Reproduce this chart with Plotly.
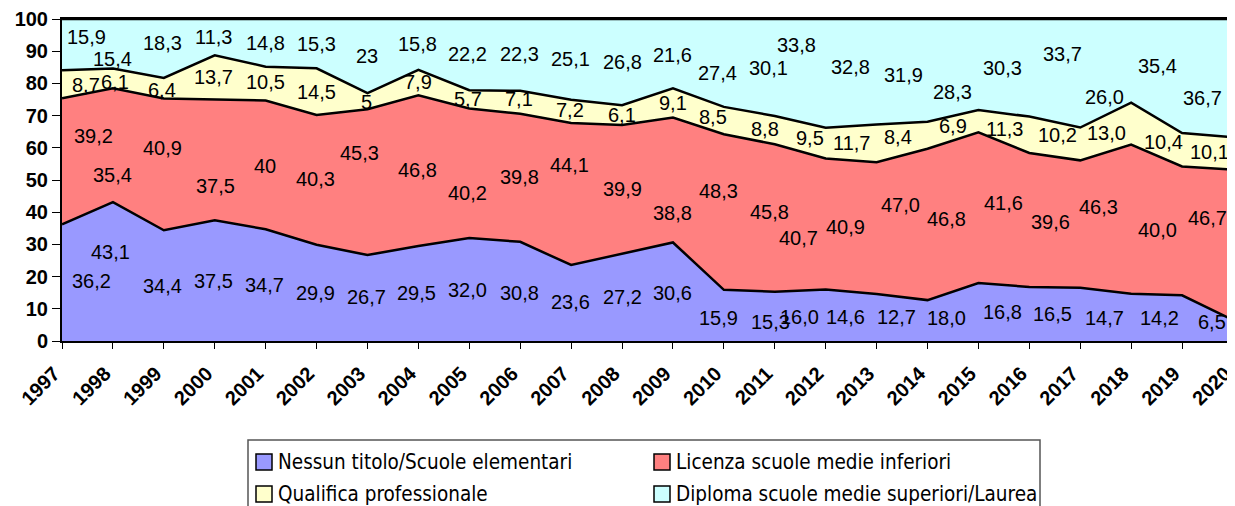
import plotly.graph_objects as go

years = list(range(1997, 2021))
nessun = [36.2, 43.1, 34.4, 37.5, 34.7, 29.9, 26.7, 29.5, 32.0, 30.8, 23.6, 27.2,
          30.6, 15.9, 15.3, 16.0, 14.6, 12.7, 18.0, 16.8, 16.5, 14.7, 14.2, 6.5]
licenza = [39.2, 35.4, 40.9, 37.5, 40, 40.3, 45.3, 46.8, 40.2, 39.8, 44.1, 39.9,
           38.8, 48.3, 45.8, 40.7, 40.9, 47.0, 46.8, 41.6, 39.6, 46.3, 40.0, 46.7]
qualifica = [8.7, 6.1, 6.4, 13.7, 10.5, 14.5, 5, 7.9, 5.7, 7.1, 7.2, 6.1,
             9.1, 8.5, 8.8, 9.5, 11.7, 8.4, 6.9, 11.3, 10.2, 13.0, 10.4, 10.1]
diploma = [15.9, 15.4, 18.3, 11.3, 14.8, 15.3, 23, 15.8, 22.2, 22.3, 25.1, 26.8,
           21.6, 27.4, 30.1, 33.8, 32.8, 31.9, 28.3, 30.3, 33.7, 26.0, 35.4, 36.7]
series_names = ["Nessun titolo/Scuole elementari", "Licenza scuole medie inferiori",
                "Qualifica professionale", "Diploma scuole medie superiori/Laurea"]
y_ticks = list(range(0, 101, 10))

# labels shown without decimals in the original
integer_labels = {(1, 2001), (2, 2003), (3, 2003)}

# label placement (x in years, y in axis units), as positioned in the original
lab_x = [
    [1997.57, 1997.96, 1998.98, 1999.97, 2000.97, 2001.97, 2002.99, 2003.97, 2004.97, 2005.98, 2006.98, 2008.0,
     2009.0, 2009.89, 2010.91, 2011.48, 2012.38, 2013.4, 2014.38, 2015.48, 2016.45, 2017.47, 2018.55, 2019.59],
    [1997.61, 1998.0, 1998.98, 2000.02, 2000.99, 2001.97, 2002.85, 2003.99, 2004.97, 2005.98, 2006.96, 2008.0,
     2009.0, 2009.89, 2010.89, 2011.46, 2012.38, 2013.46, 2014.38, 2015.5, 2016.41, 2017.35, 2018.51, 2019.49],
    [1997.47, 1998.04, 1998.96, 1999.97, 2000.99, 2001.99, 2002.99, 2003.99, 2004.97, 2005.98, 2006.98, 2008.0,
     2009.0, 2009.79, 2010.81, 2011.69, 2012.5, 2013.42, 2014.5, 2015.52, 2016.56, 2017.51, 2018.63, 2019.53],
    [1997.49, 1998.0, 1998.98, 1999.97, 2000.99, 2001.99, 2002.99, 2003.99, 2004.97, 2005.98, 2006.98, 2008.0,
     2009.0, 2009.87, 2010.87, 2011.42, 2012.48, 2013.52, 2014.5, 2015.48, 2016.66, 2017.47, 2018.51, 2019.41],
]
lab_y = [
    [18.6, 27.6, 17.1, 18.6, 17.4, 14.9, 13.7, 14.9, 15.8, 14.9, 12.1, 13.7,
     14.9, 7.1, 5.9, 7.5, 7.5, 7.5, 7.1, 9.0, 8.4, 7.1, 7.1, 5.9],
    [63.7, 51.6, 59.9, 48.1, 54.3, 50.3, 58.4, 53.1, 46.0, 50.9, 54.7, 47.2,
     39.8, 46.6, 40.1, 32.0, 35.4, 42.2, 37.9, 42.9, 37.0, 41.6, 34.5, 38.2],
    [79.5, 80.4, 78.0, 82.0, 80.4, 77.3, 74.2, 80.4, 75.2, 75.2, 71.7, 70.2,
     73.9, 69.6, 65.8, 63.0, 61.5, 63.4, 66.8, 65.8, 64.0, 64.6, 61.8, 58.7],
    [94.4, 87.6, 92.5, 94.4, 92.5, 92.2, 88.5, 92.2, 89.1, 89.1, 87.6, 86.6,
     88.8, 83.2, 84.8, 91.9, 85.1, 82.6, 77.3, 84.8, 89.1, 75.8, 85.4, 75.5],
]

colors = ["#9999FF", "#FF8080", "#FFFFCC", "#CCFFFF"]
all_series = [nessun, licenza, qualifica, diploma]

# page has an 8px body margin: figure placed at (8, 8)
OFF = 8
W, H = 1235 - OFF, 506 - OFF
L, R, T, B = 62 - OFF, 2, 19 - OFF, 165
PW, PH = W - L - R, H - T - B


def px_x(px):  # reference page pixel -> paper x
    return (px - OFF - L) / PW


def px_y(py):  # reference page pixel -> paper y
    return (H - B - (py - OFF)) / PH


fig = go.Figure()
for name, vals, col in zip(series_names, all_series, colors):
    fig.add_trace(go.Scatter(
        x=years, y=vals, name=name, mode="lines", stackgroup="one",
        fillcolor=col, line=dict(color="black", width=2.5), showlegend=False,
        hoverinfo="skip"))

annotations = []
for si, vals in enumerate(all_series):
    for i, v in enumerate(vals):
        yr = years[i]
        if (si, yr) in integer_labels:
            txt = f"{v:.0f}"
        else:
            txt = f"{v:.1f}".replace(".", ",")
        annotations.append(dict(
            x=lab_x[si][i], y=lab_y[si][i], xref="x", yref="y", text=txt,
            showarrow=False, xanchor="center", yanchor="middle",
            font=dict(family="Liberation Sans, Arial", size=20, color="black")))

# manual legend
shapes = [dict(type="rect", xref="paper", yref="paper",
               x0=px_x(248), x1=px_x(1040), y0=px_y(530), y1=px_y(440),
               line=dict(color="#555555", width=1.5), fillcolor="rgba(0,0,0,0)")]
leg_pos = [(256, 462), (654, 462), (256, 494), (654, 494)]
for (lx, ly), name, col in zip(leg_pos, series_names, colors):
    shapes.append(dict(type="rect", xref="paper", yref="paper",
                       x0=px_x(lx), x1=px_x(lx + 16), y0=px_y(ly + 8), y1=px_y(ly - 8),
                       line=dict(color="black", width=1.5), fillcolor=col))
    annotations.append(dict(
        x=px_x(lx + 20), y=px_y(ly), xref="paper", yref="paper", text=name,
        showarrow=False, xanchor="left", yanchor="middle",
        font=dict(family="DejaVu Sans Condensed, DejaVu Sans", size=20.5, color="black")))

fig.update_layout(
    width=W, height=H, margin=dict(l=L, r=R, t=T, b=B, autoexpand=False),
    plot_bgcolor="white", paper_bgcolor="white",
    annotations=annotations, shapes=shapes, showlegend=False,
    xaxis=dict(range=[1996.9995, 2020.0005], tickvals=years, ticktext=[str(y) for y in years],
               tickangle=-45, ticks="outside", ticklen=6, tickcolor="black",
               showline=True, linecolor="black", linewidth=2, mirror=True,
               showgrid=False, zeroline=False, ticklabeloverflow="allow",
               ticklabelshift=-8, ticklabelstandoff=5,
               tickfont=dict(family="Liberation Sans, Arial", size=20, color="black")),
    yaxis=dict(range=[0, 100], tickvals=y_ticks, ticks="outside", ticklen=8,
               tickcolor="black", showline=True, linecolor="black", linewidth=2,
               mirror=True, showgrid=False, zeroline=False,
               tickfont=dict(family="Liberation Sans, Arial", size=20, color="black")),
)
fig.update_xaxes(tickfont_weight="bold")
fig.update_yaxes(tickfont_weight="bold")

fig.write_html("out.html")
